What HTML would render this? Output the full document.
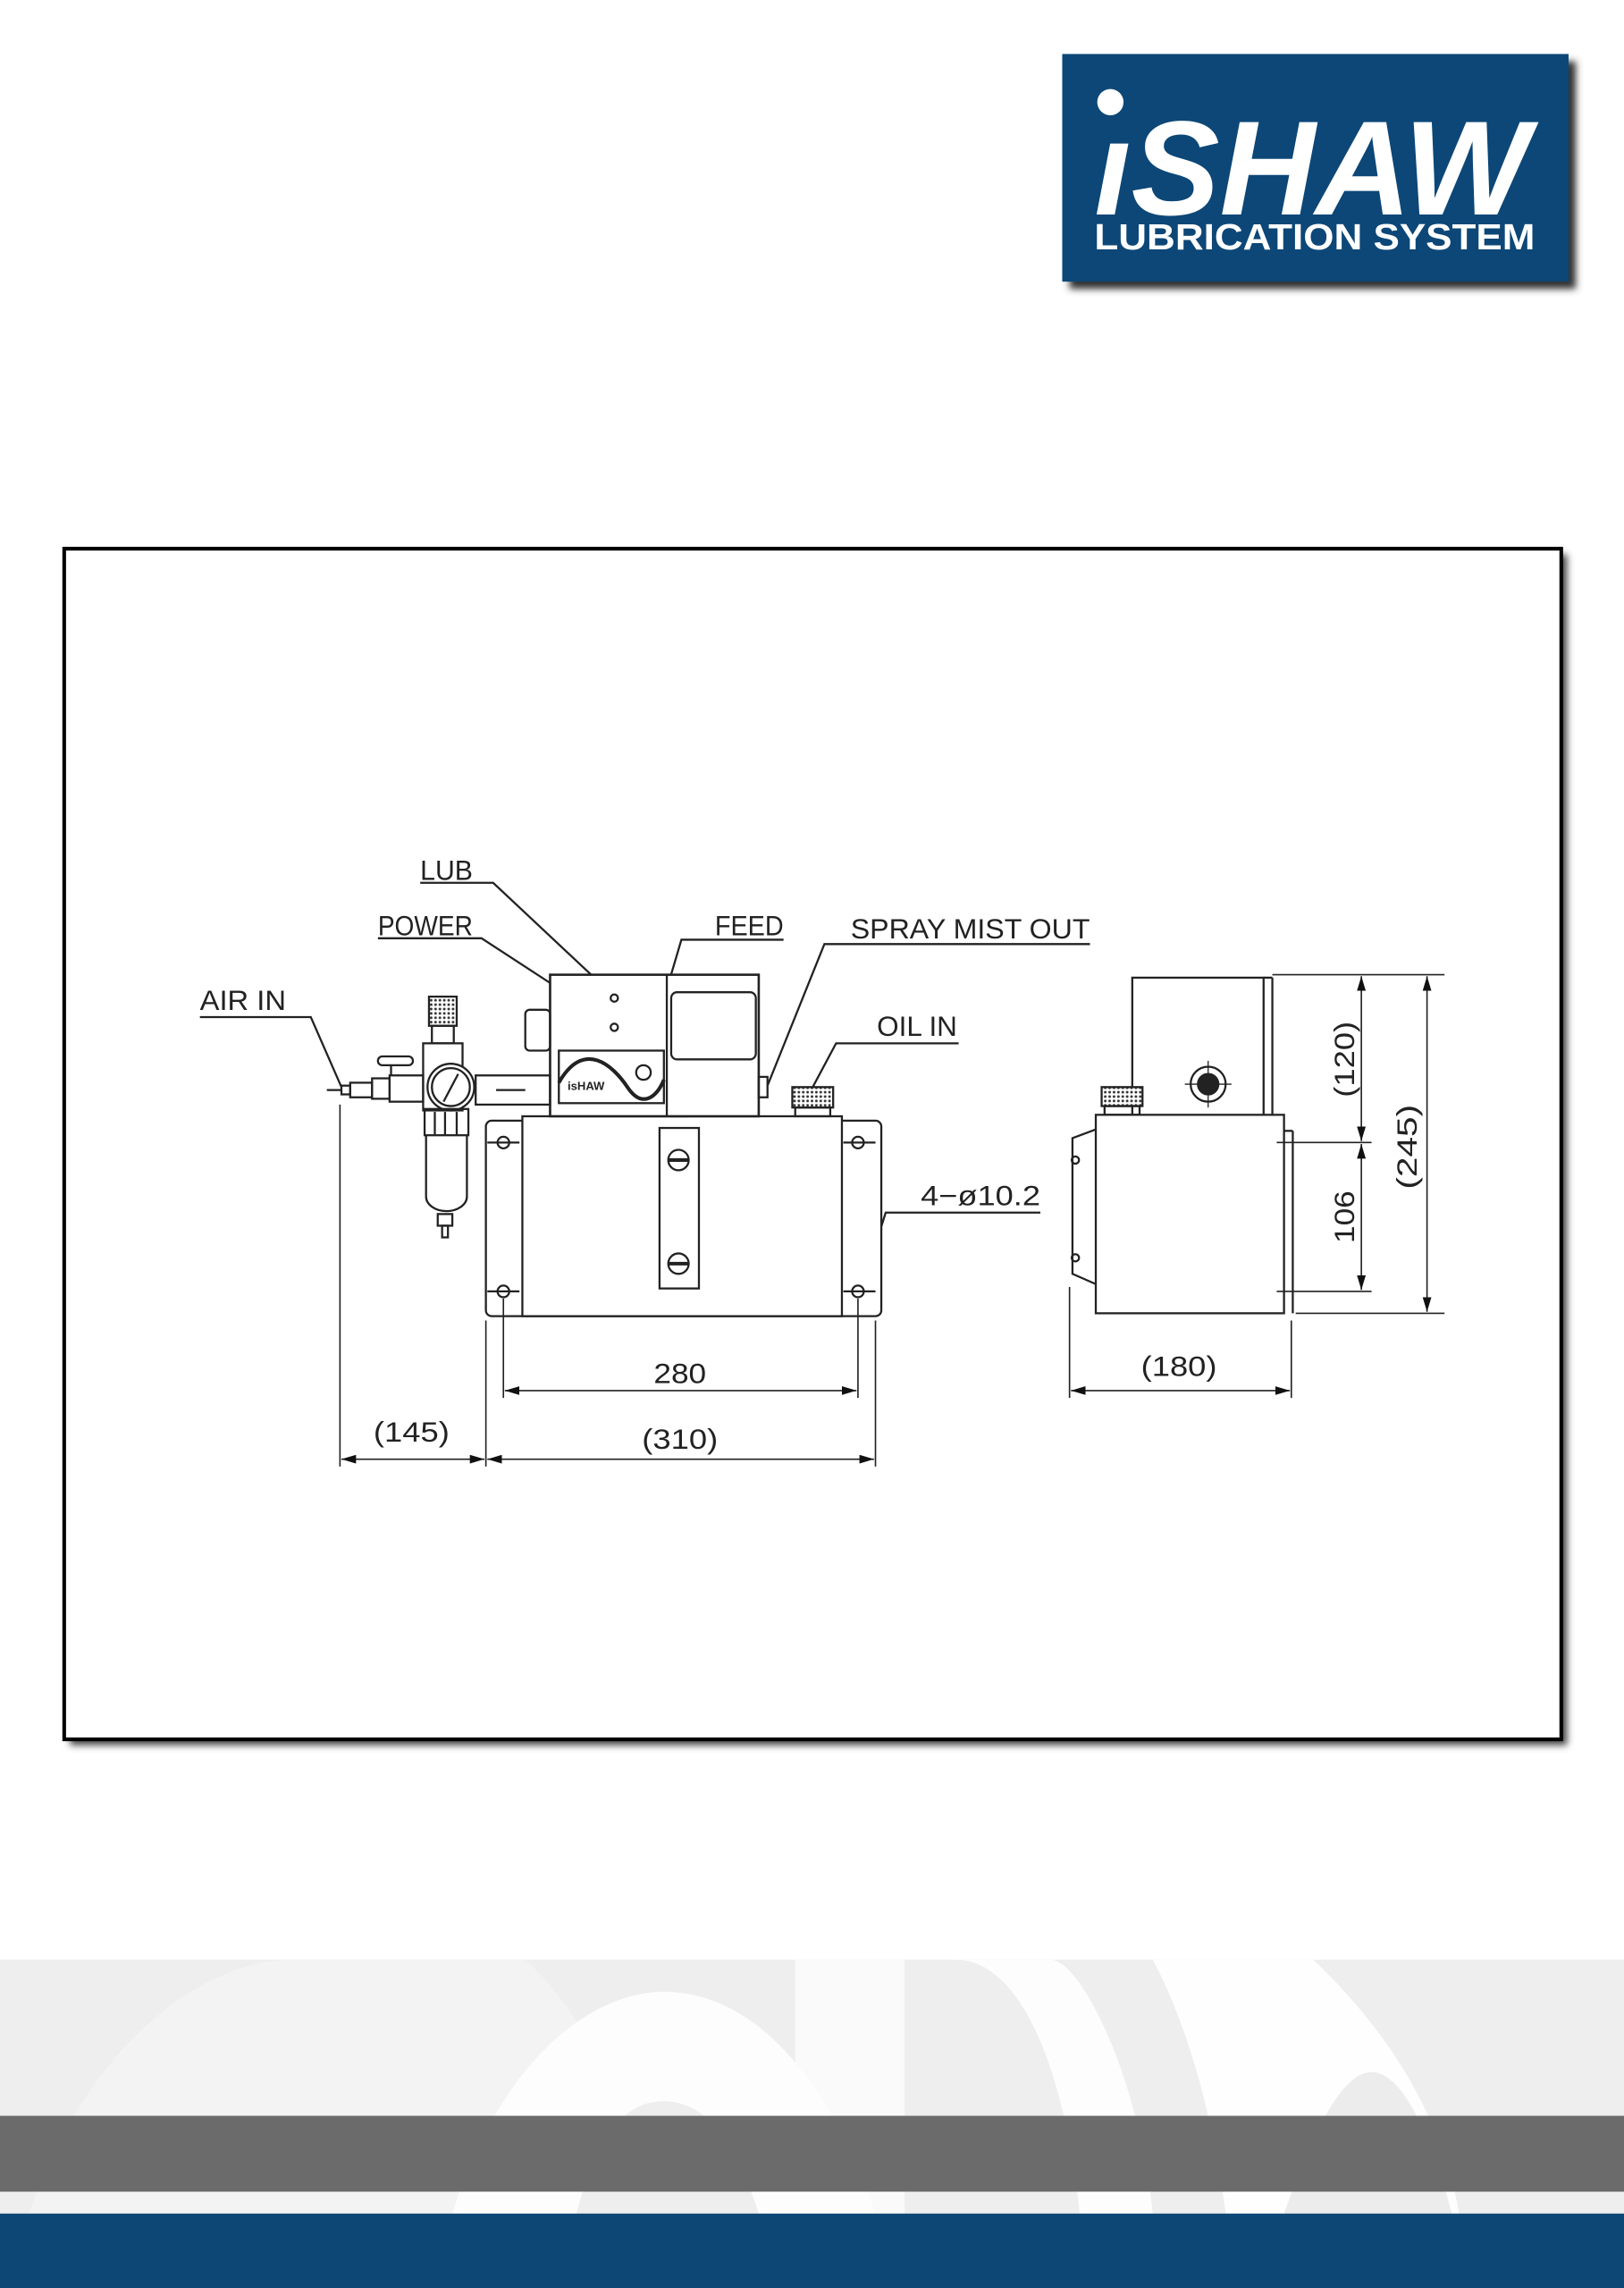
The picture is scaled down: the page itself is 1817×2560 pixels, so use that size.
<!DOCTYPE html>
<html><head><meta charset="utf-8"><style>
html,body{margin:0;padding:0;background:#fff;}
svg{display:block;}
</style></head><body>
<svg width="1817" height="2560" viewBox="0 0 1113 1568" preserveAspectRatio="none" xmlns="http://www.w3.org/2000/svg">
<defs>
<filter id="sh" x="-10%" y="-10%" width="130%" height="130%"><feGaussianBlur stdDeviation="2.5"/></filter>
<marker id="ar" viewBox="0 0 10 6" refX="10" refY="3" markerWidth="10" markerHeight="6" orient="auto-start-reverse" markerUnits="userSpaceOnUse"><path d="M0,0 L10,3 L0,6 z" fill="#111"/></marker>
<pattern id="kn" width="3" height="3" patternUnits="userSpaceOnUse"><rect width="3" height="3" fill="#fff"/><circle cx="1.5" cy="1.5" r="0.9" fill="#333"/></pattern>
</defs>
<rect width="1113" height="1568" fill="#fff"/>

<!-- Logo -->
<rect x="733" y="42" width="347" height="156" fill="#333" filter="url(#sh)"/>
<rect x="728" y="37" width="347" height="156" fill="#0c4777"/>
<circle cx="761" cy="70" r="9" fill="#fff"/>
<text x="750" y="147" font-family="Liberation Sans, sans-serif" font-weight="bold" font-style="italic" font-size="92" fill="#fff" textLength="298" lengthAdjust="spacingAndGlyphs">ıSHAW</text>
<text x="750" y="171" font-family="Liberation Sans, sans-serif" font-weight="bold" font-size="25" fill="#fff" textLength="302" lengthAdjust="spacingAndGlyphs">LUBRICATION SYSTEM</text>

<!-- Frame -->
<rect x="48" y="380" width="1026" height="816" fill="#444" filter="url(#sh)"/>
<rect x="44" y="376" width="1026" height="816" fill="#fff" stroke="#000" stroke-width="2.5"/>

<g font-family="Liberation Sans, sans-serif" font-size="19" fill="#222">
<text x="288" y="603" textLength="36" lengthAdjust="spacingAndGlyphs">LUB</text>
<text x="259" y="641" textLength="65" lengthAdjust="spacingAndGlyphs">POWER</text>
<text x="490" y="641" textLength="47" lengthAdjust="spacingAndGlyphs">FEED</text>
<text x="583" y="643" textLength="164" lengthAdjust="spacingAndGlyphs">SPRAY  MIST  OUT</text>
<text x="601" y="710" textLength="55" lengthAdjust="spacingAndGlyphs">OIL IN</text>
<text x="137" y="692" textLength="59" lengthAdjust="spacingAndGlyphs">AIR  IN</text>
<text x="631" y="826" textLength="82" lengthAdjust="spacingAndGlyphs">4−ø10.2</text>
<text x="466" y="948" text-anchor="middle" textLength="36" lengthAdjust="spacingAndGlyphs">280</text>
<text x="466" y="993" text-anchor="middle" textLength="52" lengthAdjust="spacingAndGlyphs">(310)</text>
<text x="282" y="988" text-anchor="middle" textLength="52" lengthAdjust="spacingAndGlyphs">(145)</text>
<text x="808" y="943" text-anchor="middle" textLength="52" lengthAdjust="spacingAndGlyphs">(180)</text>
<text transform="translate(928,726) rotate(-90)" text-anchor="middle" textLength="52" lengthAdjust="spacingAndGlyphs">(120)</text>
<text transform="translate(971,786) rotate(-90)" text-anchor="middle" textLength="58" lengthAdjust="spacingAndGlyphs">(245)</text>
<text transform="translate(928,834) rotate(-90)" text-anchor="middle" textLength="36" lengthAdjust="spacingAndGlyphs">106</text>
</g>

<g stroke="#222" stroke-width="1.4" fill="none">
<polyline points="288,605 338,605 419,681"/>
<polyline points="259,643 330,643 419,701"/>
<polyline points="537,644 467,644 441,732"/>
<polyline points="747,647 565,647 526,744"/>
<polyline points="657,715 573,715 557,745"/>
<polyline points="137,697 213,697 234,745"/>
<polyline points="713,831 607,831 591,882"/>

<path d="M340,768 H600 a4,4 0 0 1 4,4 V898 a4,4 0 0 1 -4,4 H337 a4,4 0 0 1 -4,-4 V772 a4,4 0 0 1 4,-4z" fill="#fff"/>
<rect x="358" y="765" width="219" height="137" fill="#fff"/>
<circle cx="345" cy="783" r="4"/><circle cx="588" cy="783" r="4"/>
<circle cx="345" cy="885" r="4"/><circle cx="588" cy="885" r="4"/>
<line x1="334" y1="783" x2="356" y2="783"/><line x1="578" y1="783" x2="600" y2="783"/>
<line x1="334" y1="885" x2="356" y2="885"/><line x1="578" y1="885" x2="600" y2="885"/>
<rect x="452" y="773" width="27" height="110"/>
<circle cx="465" cy="795" r="7"/><line x1="458" y1="795" x2="472" y2="795" stroke-width="2.5"/>
<circle cx="465" cy="866" r="7"/><line x1="458" y1="866" x2="472" y2="866" stroke-width="2.5"/>
<rect x="460" y="755" width="10" height="10"/>
<rect x="377" y="668" width="143" height="97" fill="#fff" stroke-width="1.6"/>
<line x1="457" y1="668" x2="457" y2="765"/>
<rect x="460" y="680" width="58" height="46" rx="4"/>
<rect x="383" y="720" width="72" height="36"/>
<path d="M383,742 C400,712 420,730 430,745 C440,760 450,752 455,740" stroke-width="2.5"/>
<circle cx="441" cy="735" r="5"/>
<circle cx="421" cy="684" r="2.5"/><circle cx="421" cy="704" r="2.5"/>
<text x="389" y="747" font-family="Liberation Sans, sans-serif" font-size="8" font-weight="bold" fill="#222" stroke="none">isHAW</text>
<rect x="360" y="692" width="17" height="28" rx="3"/>
<rect x="520" y="738" width="6" height="14"/>
<rect x="543" y="745" width="28" height="14" fill="url(#kn)"/>
<rect x="545" y="759" width="24" height="6"/>
<rect x="326" y="737" width="51" height="20"/>
<line x1="340" y1="747" x2="360" y2="747"/>
<rect x="294" y="683" width="19" height="20" fill="url(#kn)"/>
<rect x="296" y="703" width="15" height="12"/>
<rect x="290" y="715" width="27" height="46"/>
<circle cx="309" cy="745" r="16" fill="#fff"/>
<circle cx="309" cy="745" r="13"/>
<line x1="304" y1="755" x2="314" y2="736"/>
<rect x="291" y="760" width="30" height="18"/>
<path d="M292,778 V820 a14,10 0 0 0 28,0 V778"/>
<line x1="298" y1="762" x2="298" y2="778"/><line x1="305" y1="762" x2="305" y2="778"/><line x1="313" y1="762" x2="313" y2="778"/>
<rect x="300" y="832" width="10" height="8"/><rect x="303" y="840" width="4" height="8"/>
<rect x="267" y="737" width="23" height="18"/>
<rect x="255" y="739" width="12" height="14"/>
<rect x="240" y="742" width="15" height="10"/>
<rect x="234" y="744" width="6" height="6"/>
<rect x="259" y="724" width="24" height="6" rx="3"/>
<line x1="268" y1="730" x2="268" y2="737"/>
<line x1="224" y1="747" x2="234" y2="747"/>

<path d="M776,764 V670 H866 V764" fill="#fff"/>
<rect x="751" y="764" width="129" height="136" fill="#fff"/>
<line x1="866" y1="670" x2="872" y2="670"/><line x1="872" y1="670" x2="872" y2="764"/>
<line x1="880" y1="775" x2="886" y2="775"/><line x1="886" y1="775" x2="886" y2="900"/>
<path d="M751,774 L735,780 V873 L751,880"/>
<circle cx="737" cy="795" r="2.5"/><circle cx="737" cy="862" r="2.5"/>
<circle cx="828" cy="743" r="12"/><circle cx="828" cy="743" r="7" fill="#222"/>
<line x1="812" y1="743" x2="844" y2="743" stroke-width="0.8"/><line x1="828" y1="727" x2="828" y2="759" stroke-width="0.8"/>
<rect x="755" y="745" width="28" height="13" fill="url(#kn)"/>
<rect x="757" y="758" width="24" height="6"/>
</g>

<g stroke="#222" stroke-width="1" fill="none">
<line x1="233" y1="757" x2="233" y2="1005"/>
<line x1="333" y1="905" x2="333" y2="1005"/>
<line x1="600" y1="905" x2="600" y2="1005"/>
<line x1="345" y1="890" x2="345" y2="958"/>
<line x1="588" y1="890" x2="588" y2="958"/>
<line x1="346" y1="953" x2="587" y2="953" marker-start="url(#ar)" marker-end="url(#ar)"/>
<line x1="234" y1="1000" x2="332" y2="1000" marker-start="url(#ar)" marker-end="url(#ar)"/>
<line x1="334" y1="1000" x2="599" y2="1000" marker-start="url(#ar)" marker-end="url(#ar)"/>
<line x1="733" y1="882" x2="733" y2="958"/>
<line x1="885" y1="905" x2="885" y2="958"/>
<line x1="734" y1="953" x2="884" y2="953" marker-start="url(#ar)" marker-end="url(#ar)"/>
<line x1="872" y1="668" x2="990" y2="668"/>
<line x1="875" y1="783" x2="940" y2="783"/>
<line x1="875" y1="885" x2="940" y2="885"/>
<line x1="888" y1="900" x2="990" y2="900"/>
<line x1="933" y1="669" x2="933" y2="782" marker-start="url(#ar)" marker-end="url(#ar)"/>
<line x1="933" y1="784" x2="933" y2="884" marker-start="url(#ar)" marker-end="url(#ar)"/>
<line x1="978" y1="669" x2="978" y2="899" marker-start="url(#ar)" marker-end="url(#ar)"/>
</g>

<!-- footer decoration -->
<rect x="0" y="1343" width="1113" height="174" fill="#eeeeee"/>
<path d="M20,1517 C60,1400 140,1343 200,1343 L360,1343 C400,1380 430,1440 450,1517 Z" fill="#f3f3f3"/>
<path d="M545,1343 L620,1343 L620,1517 L545,1517 Z" fill="#fafafa"/>
<path d="M310,1517 C340,1420 400,1365 455,1365 C520,1365 570,1430 600,1517 Z" fill="#fdfdfd"/>
<path d="M395,1517 C410,1460 430,1440 455,1440 C485,1440 505,1470 520,1517 Z" fill="#eeeeee"/>
<path d="M655,1343 C700,1343 730,1420 740,1517 L790,1517 C780,1420 740,1343 720,1343 Z" fill="#fdfdfd"/>
<path d="M790,1343 L900,1343 C960,1400 990,1460 1000,1517 L840,1517 C830,1440 810,1380 790,1343 Z" fill="#fefefe"/>
<path d="M880,1517 C900,1460 920,1420 940,1420 C960,1420 980,1460 995,1517 Z" fill="#ececec"/>
<rect x="0" y="1450" width="1113" height="52" fill="#6b6b6b"/>
<rect x="0" y="1517" width="1113" height="51" fill="#0c4776"/>
</svg>
</body></html>
